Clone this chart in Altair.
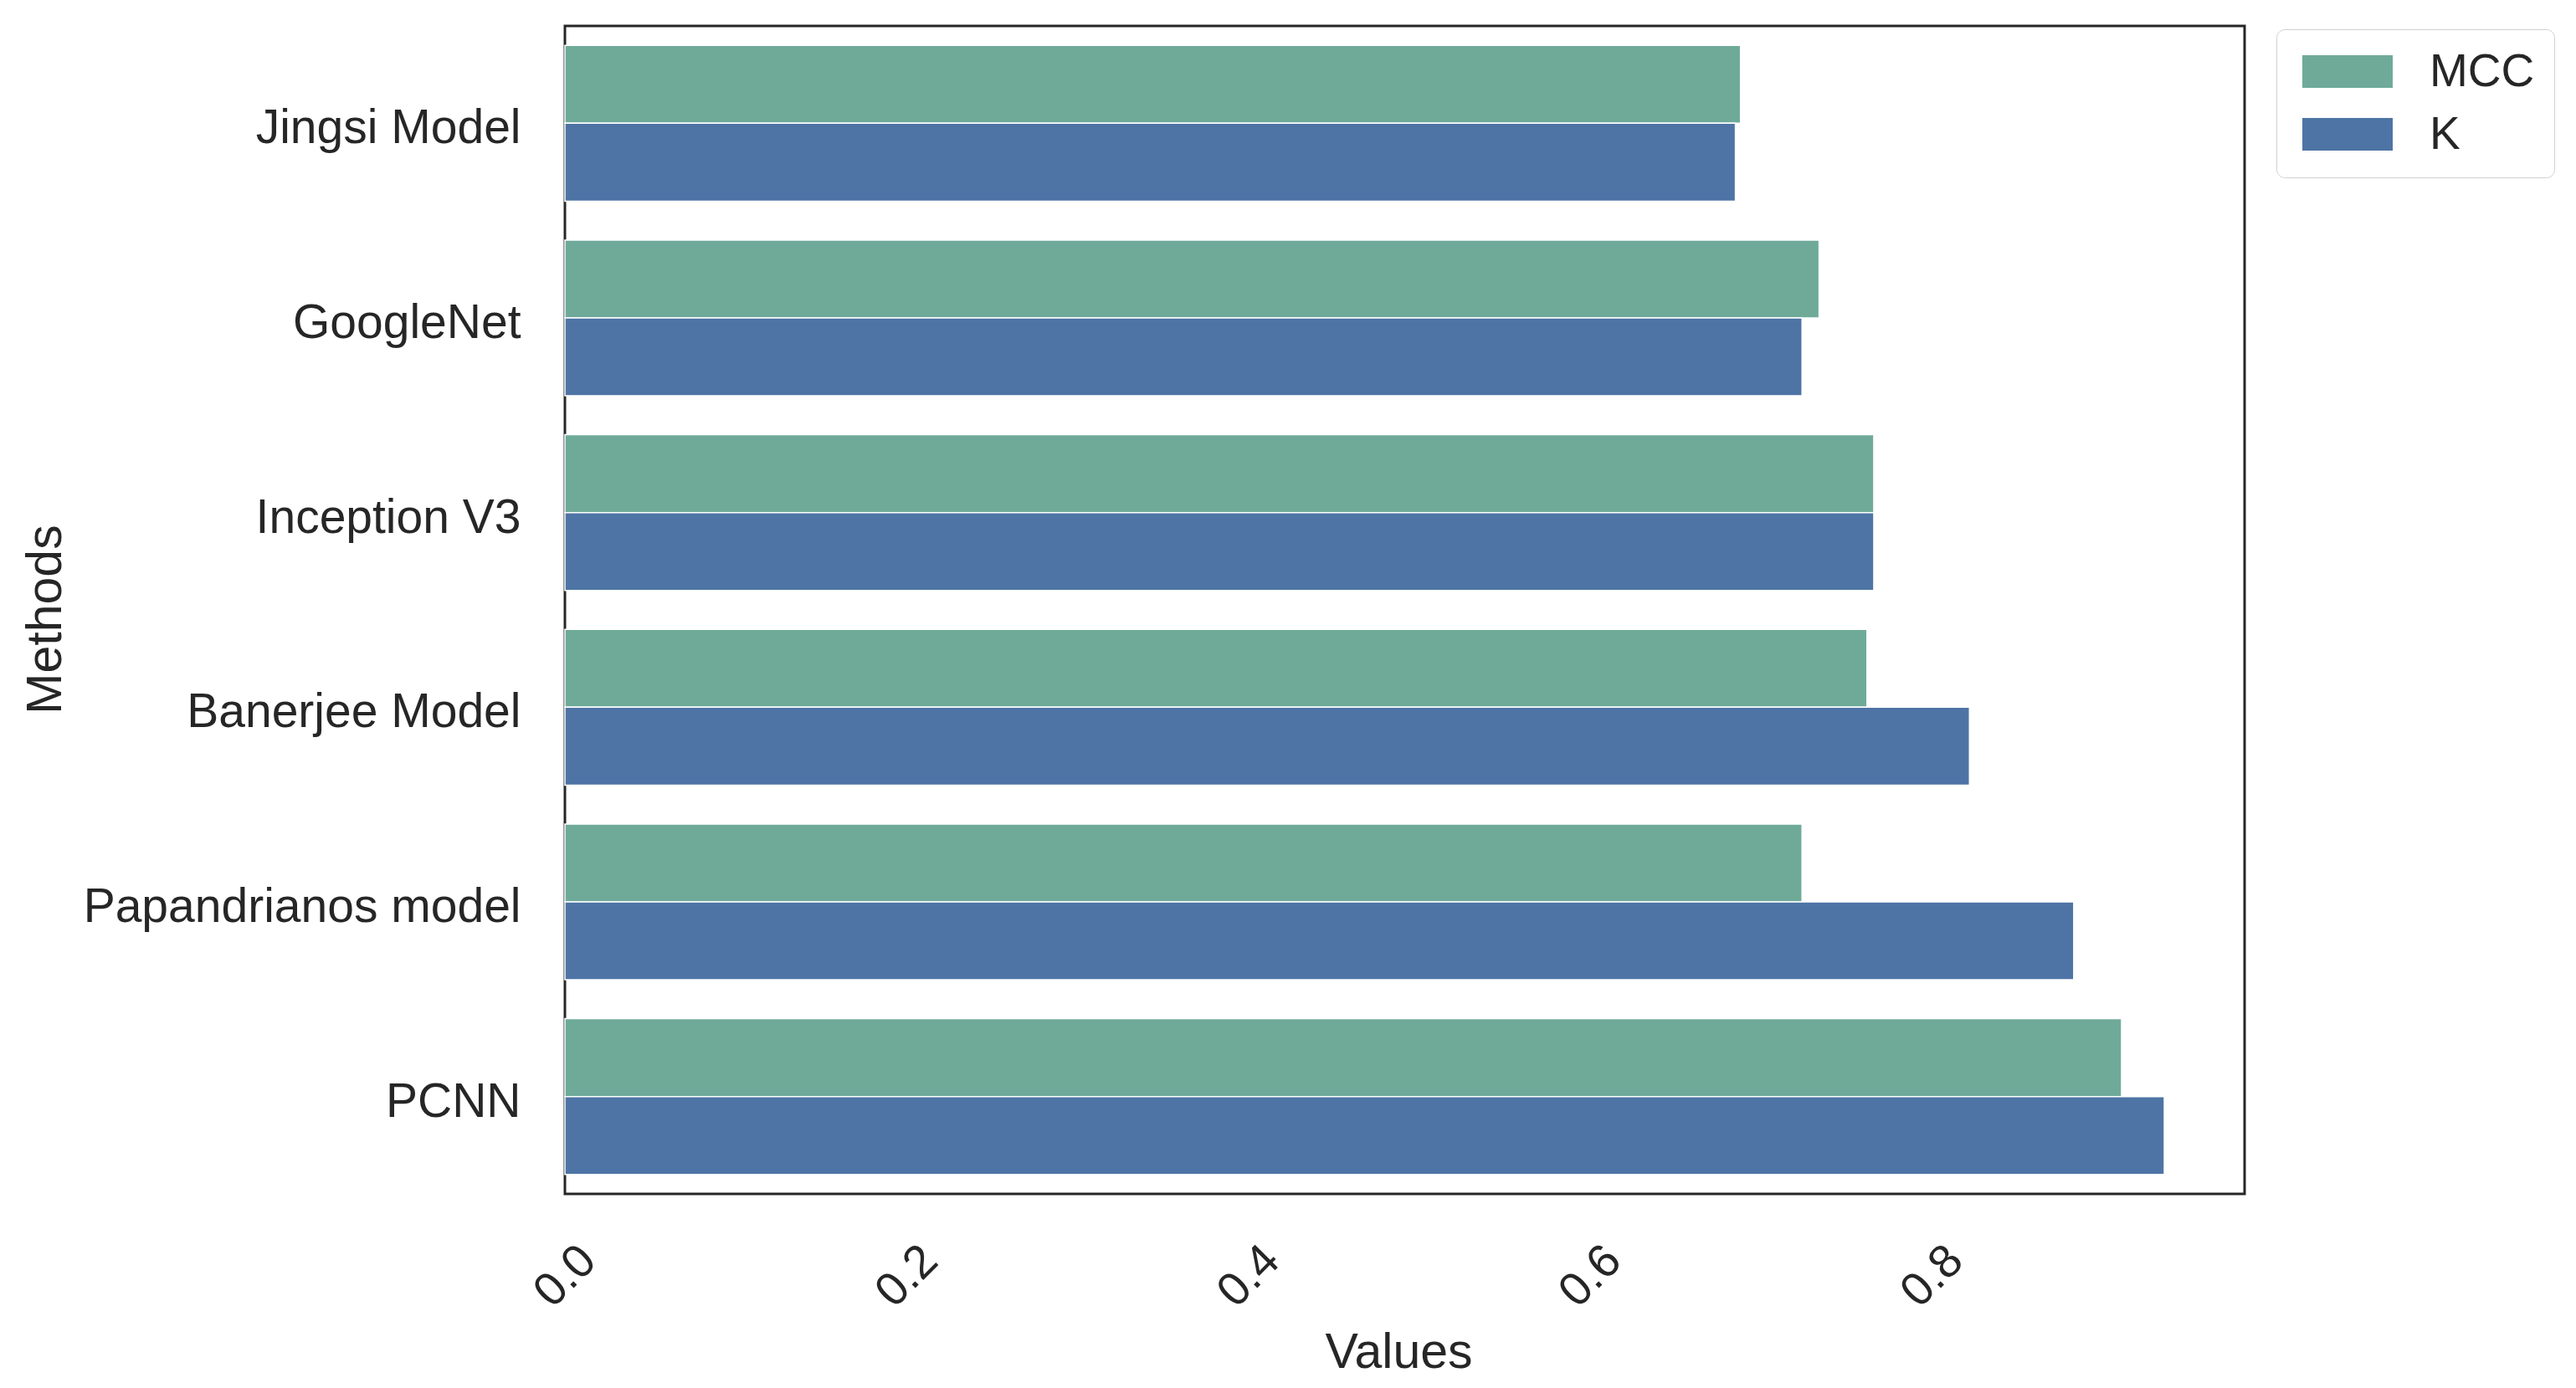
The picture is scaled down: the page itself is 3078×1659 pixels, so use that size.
import altair as alt
import pandas as pd

methods = ["Jingsi Model", "GoogleNet", "Inception V3", "Banerjee Model", "Papandrianos model", "PCNN"]
mcc = [0.688, 0.734, 0.766, 0.762, 0.724, 0.911]
kappa = [0.685, 0.724, 0.766, 0.822, 0.883, 0.936]
metrics = ["MCC", "K"]
colors = ["#6faa99", "#4e74a5"]
x_ticks = [0.0, 0.2, 0.4, 0.6, 0.8]

rows = []
for m, a, b in zip(methods, mcc, kappa):
    rows.append({"Methods": m, "Metric": "MCC", "Values": a})
    rows.append({"Methods": m, "Metric": "K", "Values": b})
df = pd.DataFrame(rows)

FONT = "Liberation Sans"
TXT = "#262626"

chart = alt.Chart(df).mark_bar(stroke="white", strokeWidth=1.5).encode(
    y=alt.Y("Methods:N", sort=methods,
            scale=alt.Scale(paddingInner=0.2, paddingOuter=0.1),
            axis=alt.Axis(title="Methods", domain=False, ticks=False, grid=False,
                          labelFontSize=57, labelFont=FONT, labelColor=TXT,
                          labelPadding=53, labelAlign="right", labelBaseline="middle",
                          labelLimit=2000, labelOffset=7,
                          titleFontSize=59, titleFont=FONT, titleColor=TXT,
                          titleFontWeight="normal", titleAngle=-90,
                          titleBaseline="alphabetic", titleAlign="center",
                          titleX=-603, titleY=709)),
    yOffset=alt.YOffset("Metric:N", sort=metrics, scale=alt.Scale(paddingInner=0, paddingOuter=0)),
    x=alt.X("Values:Q", scale=alt.Scale(domain=[0, 0.983], nice=False, zero=True),
            axis=alt.Axis(title="Values", values=x_ticks, format=".1f", domain=False,
                          ticks=False, grid=False,
                          labelFontSize=56, labelFont=FONT, labelColor=TXT,
                          labelAngle=-45, labelAlign="center", labelBaseline="middle",
                          labelPadding=98, labelFlush=False, labelOverlap=False,
                          titleFontSize=59, titleFont=FONT, titleColor=TXT,
                          titleFontWeight="normal", titleBaseline="alphabetic",
                          titleAlign="center", titleX=996, titleY=207)),
    color=alt.Color("Metric:N", sort=metrics,
                    scale=alt.Scale(domain=metrics, range=colors),
                    legend=alt.Legend(title=None, orient="none", legendX=2045, legendY=4,
                                      symbolType="M-1,-1H4.538V1H-1Z",
                                      symbolSize=1521, symbolStrokeWidth=0,
                                      labelFontSize=55, labelFont=FONT, labelColor=TXT,
                                      labelOffset=105, rowPadding=19, padding=23,
                                      fillColor="white", strokeColor="#d0d0d0",
                                      cornerRadius=10)),
).properties(
    width=2007, height=1396,
    background="white",
    autosize=alt.AutoSizeParams(type="none"),
    padding={"left": 667, "top": 23, "right": 380, "bottom": 220},
).configure_view(
    stroke="#262626", strokeWidth=3
)

chart.save("out.html", embed_options={"renderer": "svg", "actions": False})
